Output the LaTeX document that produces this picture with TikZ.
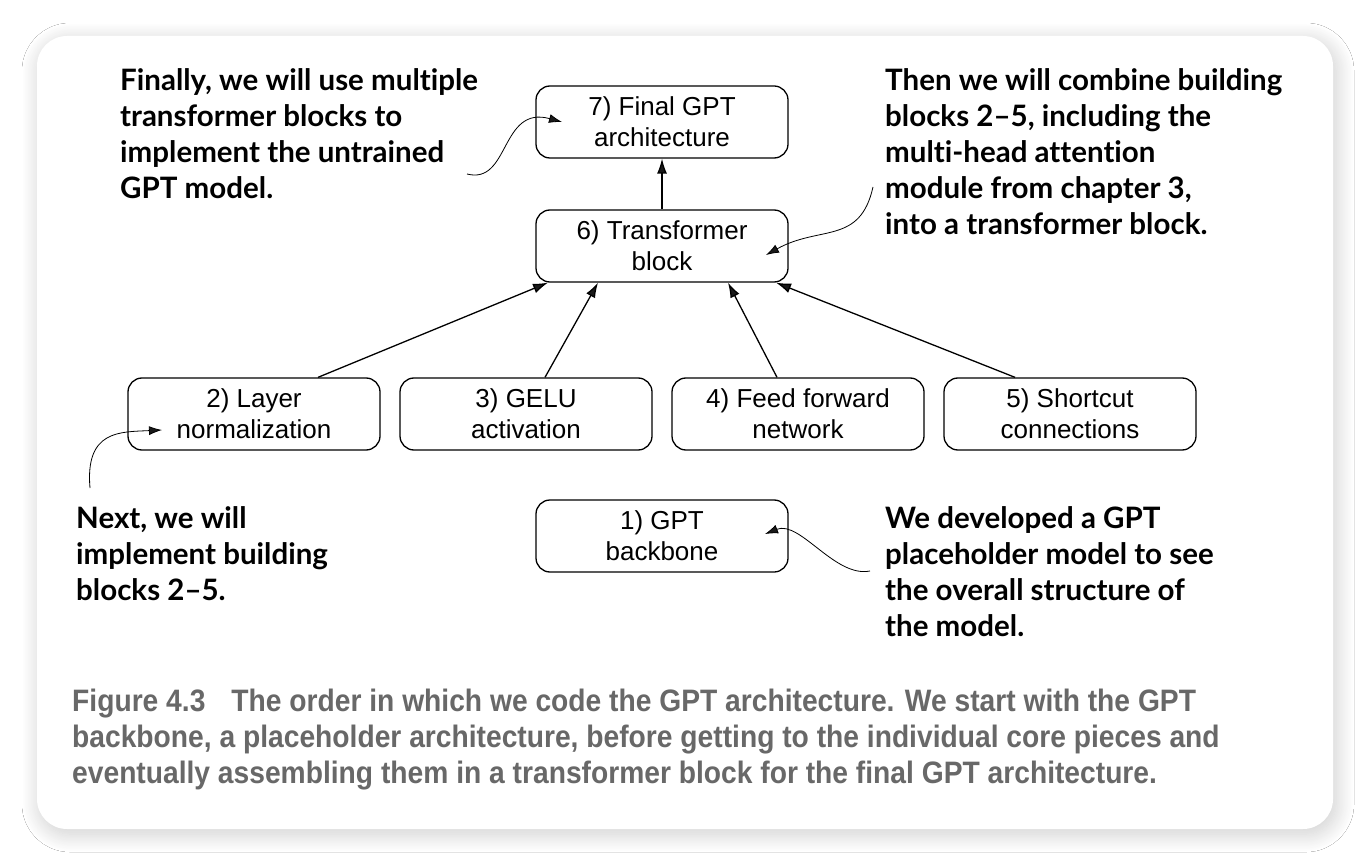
\documentclass[tikz,border=0pt]{standalone}
\usepackage{fontspec}
\usetikzlibrary{arrows.meta,shadows.blur}
\setmainfont{Liberation Sans}
\newfontfamily\notefont{Lato}[Ligatures=NoCommon]
\newfontfamily\capfont{Liberation Sans}[FakeStretch=0.91]
\definecolor{captiongray}{HTML}{686868}

\begin{document}
\begin{tikzpicture}[x=1pt,y=-1pt,-]
                \tikzstyle{block}=[rectangle,rounded corners=14pt,draw=black,line width=1.3pt,minimum width=252pt,minimum height=72pt,inner sep=0pt,align=center,font=\fontsize{26}{31}\selectfont]
                \tikzstyle{note}=[anchor=north west,inner sep=0pt,align=left,font=\notefont\bfseries\fontsize{29.5}{36}\selectfont]
                \tikzstyle{capt}=[anchor=north west,inner sep=0pt,align=left,text=captiongray,font=\capfont\bfseries\fontsize{31}{36}\selectfont]
                \tikzstyle{link}=[line width=1.3pt,-{Latex[length=15pt,width=10pt]}]
                \tikzstyle{pointer}=[line width=0.8pt,-{Latex[length=13pt,width=9pt]}]
                \useasboundingbox (0,0) rectangle (1370,866);
                \fill[white] (0,0) rectangle (1370,866);
                \fill[white,rounded corners=30pt,blur shadow={shadow xshift=3pt,shadow yshift=-5pt,shadow blur radius=18pt,shadow blur steps=30,shadow opacity=20}] (37,36) rectangle (1333,829);

                % building blocks
                \foreach \num/\x/\y/\txt in {7/662/122/{7) Final GPT\\architecture}, 6/662/246/{6) Transformer\\block}, 2/254/414/{2) Layer\\normalization}, 3/526/414/{3) GELU\\activation}, 4/798/414/{4) Feed forward\\network}, 5/1070/414/{5) Shortcut\\connections}, 1/662/536/{1) GPT\\backbone}}
                    \node[block] (B-\num) at (\x,\y) {\txt};

                \foreach \from/\dx/\tx in {2/64/-114, 3/19/-64, 4/-21/66, 5/-55/114}
                    \draw[link] ([xshift=\dx pt]B-\from.north) -- ([xshift=\tx pt]B-6.south);
                \draw[link] (B-6) -- (B-7);

                % notes
                \node[note] (N-final) at (120,68) {Finally, we will use multiple\\transformer blocks to\\implement the untrained\\GPT model.};
                \node[note] (N-combine) at (885,68) {Then we will combine building\\blocks 2–5, including the\\multi-head attention\\module from chapter 3,\\into a transformer block.};
                \node[note] (N-next) at (76,506) {Next, we will\\implement building\\blocks 2–5.};
                \node[note] (N-backbone) at (885,506) {We developed a GPT\\placeholder model to see\\the overall structure of\\the model.};

                \coordinate (P-final) at (467,174);
                \coordinate (P-combine) at (873,187);
                \coordinate (P-next) at (90,488);
                \coordinate (P-backbone) at (870,571);
                \coordinate (T-7) at ([xshift=-100pt]B-7.center);
                \coordinate (T-6) at ([xshift=104pt,yshift=-9pt]B-6.center);
                \coordinate (T-2) at ([xshift=-92pt,yshift=-16pt]B-2.center);
                \coordinate (T-1) at ([xshift=103pt,yshift=2pt]B-1.center);
                \draw[pointer] (P-final) .. controls (510,185) and (500,105) .. (T-7);
                \draw[pointer] (P-combine) .. controls (860,245) and (820,225) .. (T-6);
                \draw[pointer] (P-next) .. controls (85,430) and (120,432) .. (T-2);
                \draw[pointer] (P-backbone) .. controls (835,578) and (800,520) .. (T-1);

                % caption
                \node[capt] (N-caption) at (72,689) {Figure 4.3\hspace{26pt}The order in which we code the GPT architecture. We start with the GPT\\backbone, a placeholder architecture, before getting to the individual core pieces and\\eventually assembling them in a transformer block for the final GPT architecture.};
            \end{tikzpicture}
\end{document}
